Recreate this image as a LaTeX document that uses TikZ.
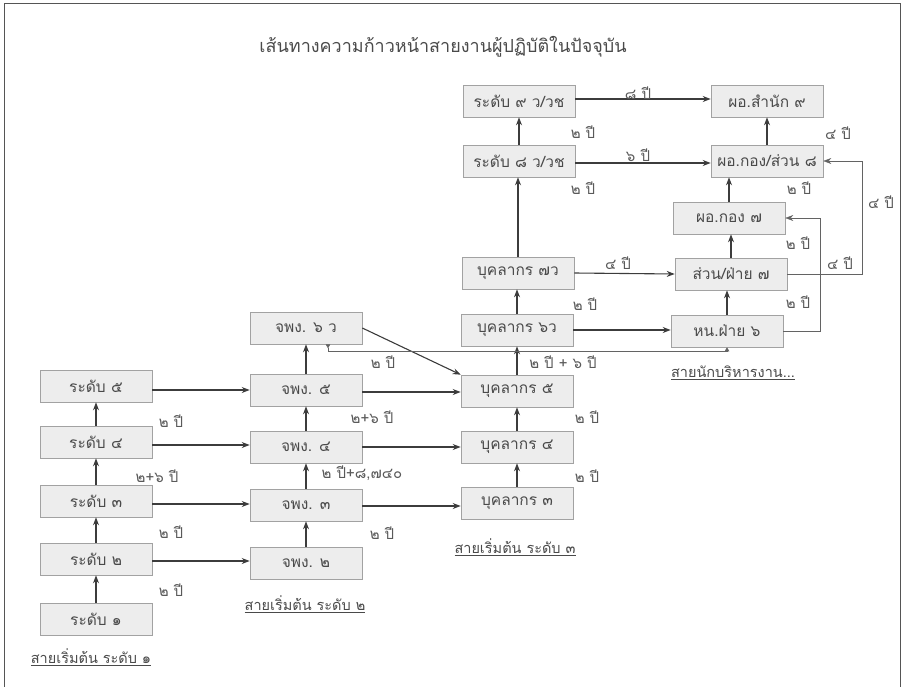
\documentclass[tikz,border=0pt]{standalone}
\usepackage{fontspec}
\newfontfamily\thai[Script=Thai]{Loma}
\usetikzlibrary{arrows.meta,calc}
\definecolor{boxfill}{HTML}{EDEDED}
\definecolor{boxline}{HTML}{A2A2A2}
\definecolor{txt}{HTML}{4A4A4A}
\definecolor{lbl}{HTML}{5A5A5A}
\definecolor{arr}{HTML}{3C3C3C}
\definecolor{frame}{HTML}{555555}
\begin{document}
\begin{tikzpicture}[x=1pt,y=-1pt,
  stagebox/.style={draw=boxline, fill=boxfill, line width=0.6pt, minimum width=112pt, minimum height=32pt, inner sep=0pt, text=txt, font=\thai\fontsize{15.5}{17}\selectfont},
  yr/.style={text=lbl, inner sep=0pt, font=\thai\fontsize{15}{17}\selectfont},
  track/.style={text=txt, inner sep=0pt, font=\thai\fontsize{14.5}{17}\selectfont},
  arrowln/.style={draw=arr, line width=1.1pt, -{Stealth[length=8pt,width=6pt]}},
  thinln/.style={draw=arr!80, line width=0.5pt, -{Stealth[length=8pt,width=6pt]}},
  tinyln/.style={draw=arr!80, line width=0.5pt, {Triangle[reversed,length=4pt,width=4.5pt]}-{Triangle[length=4pt,width=4.5pt]}}
]
\useasboundingbox (0,0) rectangle (904,687);
\draw[frame, line width=1pt] (4,700) -- (4,4) -- (900,4) -- (900,700);

\node[text=txt, inner sep=0pt, font=\thai\fontsize{18}{21}\selectfont] (title) at (443,47) {เส้นทางความก้าวหน้าสายงานผู้ปฏิบัติในปัจจุบัน};

% column 1
\node[stagebox] (r5) at (96,386) {ระดับ ๕};
\node[stagebox] (r4) at (96,442) {ระดับ ๔};
\node[stagebox] (r3) at (96,501) {ระดับ ๓};
\node[stagebox] (r2) at (96,559) {ระดับ ๒};
\node[stagebox] (r1) at (96,619) {ระดับ ๑};
% column 2
\node[stagebox] (j6) at (306,328) {จพง. ๖ ว};
\node[stagebox] (j5) at (306,390) {จพง. ๕};
\node[stagebox] (j4) at (306,447) {จพง. ๔};
\node[stagebox] (j3) at (306,505) {จพง. ๓};
\node[stagebox] (j2) at (306,563) {จพง. ๒};
% column 3
\node[stagebox] (s9) at (519,101) {ระดับ ๙ ว/วช};
\node[stagebox] (s8) at (519,161) {ระดับ ๘ ว/วช};
\node[stagebox] (p7) at (518,273) {บุคลากร ๗ว};
\node[stagebox] (p6) at (517,330) {บุคลากร ๖ว};
\node[stagebox] (p5) at (517,391) {บุคลากร ๕};
\node[stagebox] (p4) at (517,447) {บุคลากร ๔};
\node[stagebox] (p3) at (517,503) {บุคลากร ๓};
% right column
\node[stagebox] (d9) at (767,101) {ผอ.สำนัก ๙};
\node[stagebox] (d8) at (767,161) {ผอ.กอง/ส่วน ๘};
\node[stagebox] (d7) at (729,218) {ผอ.กอง ๗};
\node[stagebox] (f7) at (731,274) {ส่วน/ฝ่าย ๗};
\node[stagebox] (h6) at (727,331) {หน.ฝ่าย ๖};

% track labels
\node[track] (t1) at (91,657) {\underline{สายเริ่มต้น ระดับ ๑}};
\node[track] (t2) at (305,604) {\underline{สายเริ่มต้น ระดับ ๒}};
\node[track] (t3) at (515,547) {\underline{สายเริ่มต้น ระดับ ๓}};
\node[track] (t4) at (733,373) {\underline{สายนักบริหารงาน...}};

% vertical arrows
\draw[arrowln] (r1.north) -- (r2.south);
\draw[arrowln] (r2.north) -- (r3.south);
\draw[arrowln] (r3.north) -- (r4.south);
\draw[arrowln] (r4.north) -- (r5.south);
\draw[arrowln] (j2.north) -- (j2.north |- j3.south);
\draw[arrowln] (j3.north) -- (j3.north |- j4.south);
\draw[arrowln] (j4.north) -- (j4.north |- j5.south);
\draw[arrowln] (j5.north) -- (j5.north |- j6.south);
\draw[arrowln] (p3.north) -- (p3.north |- p4.south);
\draw[arrowln] (p4.north) -- (p4.north |- p5.south);
\draw[arrowln] (p5.north) -- (p5.north |- p6.south);
\draw[arrowln] (p6.north) -- (p6.north |- p7.south);
\draw[arrowln] (p7.north) -- (p7.north |- s8.south);
\draw[arrowln] (s8.north) -- (s8.north |- s9.south);
\draw[arrowln] (h6.north) -- (h6.north |- f7.south);
\draw[arrowln] (f7.north) -- (f7.north |- d7.south);
\draw[arrowln] (d7.north) -- (d7.north |- d8.south);
\draw[arrowln] (d8.north) -- (d8.north |- d9.south);

% horizontal arrows
\draw[arrowln] (r5.east |- j5.west) -- (j5.west);
\draw[arrowln] (r4.east |- 0,445) -- (j4.west |- 0,445);
\draw[arrowln] (r3.east |- 0,504) -- (j3.west |- 0,504);
\draw[arrowln] (r2.east |- 0,561) -- (j2.west |- 0,561);
\draw[arrowln] (j5.east |- 0,392) -- (p5.west |- 0,392);
\draw[arrowln] (j4.east) -- (p4.west);
\draw[arrowln] (j3.east |- 0,506) -- (p3.west |- 0,506);
\draw[arrowln] (p7.east) -- (f7.west);
\draw[arrowln] (p6.east) -- (p6.east -| h6.west);
\draw[arrowln] (s9.east |- 0,99) -- (d9.west |- 0,99);
\draw[arrowln] (s8.east |- 0,163) -- (d8.west |- 0,163);
\draw[arrowln] (j6.east) -- (p5.north west);

% thin connectors
\draw[thinln] (f7.east) -- ++(75,0) |- (d8.east);
\draw[thinln] (h6.east) -- ++(37,0) |- (d7.east);
\draw[tinyln] ([xshift=22pt]j6.south) -- ++(0,7) -| (h6.south);

% duration labels
\node[yr] (a1) at (171,421) {๒ ปี};
\node[yr] (a2) at (157,476) {๒+๖ ปี};
\node[yr] (a3) at (171,532) {๒ ปี};
\node[yr] (a4) at (171,590) {๒ ปี};
\node[yr] (b1) at (383,362) {๒ ปี};
\node[yr] (b2) at (372,417) {๒+๖ ปี};
\node[yr] (b3) at (362,473) {๒ ปี+๘,๗๔๐};
\node[yr] (b4) at (382,533) {๒ ปี};
\node[yr] (c1) at (587,417) {๒ ปี};
\node[yr] (c2) at (587,476) {๒ ปี};
\node[yr] (c3) at (563,362) {๒ ปี + ๖ ปี};
\node[yr] (c4) at (585,304) {๒ ปี};
\node[yr] (c5) at (583,188) {๒ ปี};
\node[yr] (c6) at (583,132) {๒ ปี};
\node[yr] (e1) at (638,93) {๘ ปี};
\node[yr] (e2) at (638,155) {๖ ปี};
\node[yr] (e3) at (618,263) {๔ ปี};
\node[yr] (e4) at (838,133) {๔ ปี};
\node[yr] (e5) at (799,188) {๒ ปี};
\node[yr] (e6) at (881,202) {๔ ปี};
\node[yr] (e7) at (798,243) {๒ ปี};
\node[yr] (e8) at (840,263) {๔ ปี};
\node[yr] (e9) at (798,302) {๒ ปี};
\end{tikzpicture}
\end{document}
